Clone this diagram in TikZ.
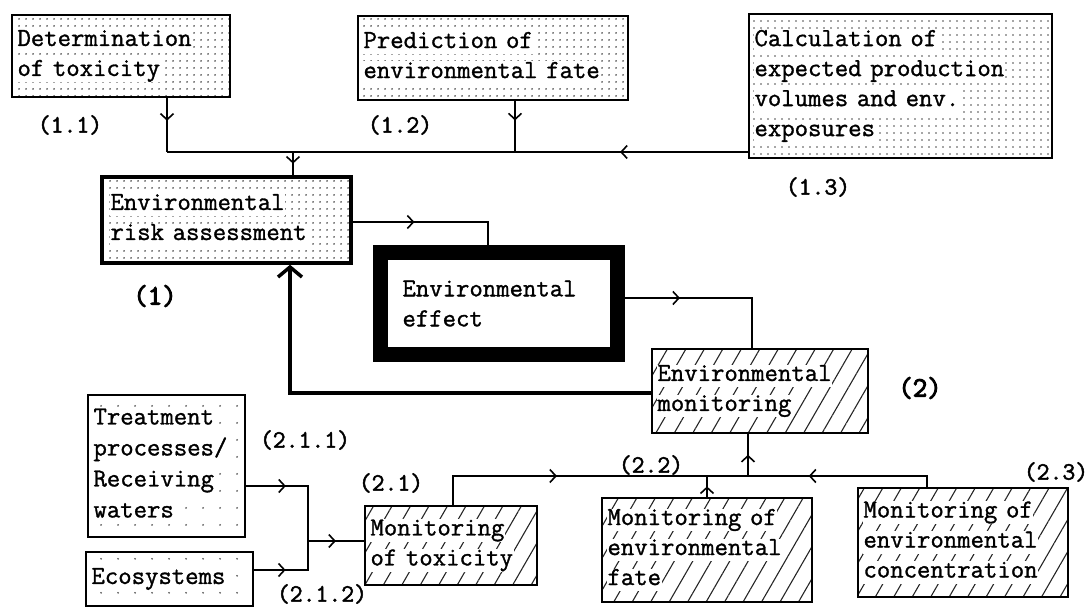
\documentclass[tikz,border=0pt]{standalone}
\usepackage{fontspec}
\newfontfamily\dfont[FakeBold=1.2]{Latin Modern Mono}
\newfontfamily\lfont[FakeBold=2]{Latin Modern Mono}
\newfontfamily\bfont[FakeBold=3.5]{Latin Modern Mono}
\usetikzlibrary{arrows.meta,decorations.markings,patterns.meta,calc}
\newcommand\wl[1]{\colorbox{white}{\vphantom{Tg}#1}}
\setlength{\fboxsep}{0.5pt}
\begin{document}
\begin{tikzpicture}[x=1pt,y=-1pt,
  txt/.style={font=\dfont\fontsize{26}{30}\selectfont, align=left, inner xsep=5pt, inner ysep=0pt},
  dotbox/.style={txt, draw, line width=2.2pt, pattern={Dots[distance=6.5pt,radius=1pt]}, pattern color=black!70},
  sparsebox/.style={txt, draw, line width=2.2pt, pattern={Dots[distance=17pt,radius=1pt]}, pattern color=black!70},
  hatchbox/.style={txt, draw, line width=2.4pt, pattern={Lines[angle=60,distance=16pt,line width=1.1pt]}, pattern color=black!85},
  effbox/.style={txt, draw, fill=white, line width=15pt, inner xsep=22pt},
  lbl/.style={font=\lfont\fontsize{25}{28}\selectfont, inner sep=0pt},
  blbl/.style={font=\bfont\fontsize{28}{30}\selectfont, inner sep=0pt},
  conn/.style={line width=1.8pt},
  marr/.style={postaction={decorate,decoration={markings,mark=at position #1 with {\arrow{Straight Barb[length=6pt,width=13pt,line width=1.6pt]}}}}},
  bigarr/.style={line width=3.5pt, -{Straight Barb[length=10pt,width=24pt,line width=3.5pt]}}
]
\useasboundingbox (0,0) rectangle (1090,609);

% boxes
\node[dotbox, text width=208pt, minimum height=82pt] (A) at (121,56) {\wl{Determination}\\\wl{of toxicity}};
\node[dotbox, text width=260pt, minimum height=84pt] (B) at (493,58) {\wl{Prediction of}\\\wl{environmental fate}};
\node[dotbox, text width=293pt, minimum height=144pt] (C) at (900.5,86) {\wl{Calculation of}\\\wl{expected production}\\\wl{volumes and env.}\\\wl{exposures}};
\node[dotbox, line width=3.5pt, text width=233pt, minimum height=86pt, inner xsep=8pt] (D) at (226.5,220) {\wl{Environmental}\\\wl{risk assessment}};
\node[effbox, text width=193pt, minimum height=102pt] (E) at (499,303.5) {Environmental\\effect};
\node[hatchbox, text width=206pt, minimum height=84pt] (G) at (760,391) {\wl{Environmental}\\\wl{monitoring}};
\node[sparsebox, text width=147pt, minimum height=142pt] (T) at (166.5,466) {\wl{Treatment}\\[1pt]\wl{processes/}\\[1pt]\wl{Receiving}\\[1pt]\wl{waters}};
\node[sparsebox, text width=157pt, minimum height=54pt] (Eco) at (169.5,579) {\wl{Ecosystems}};
\node[hatchbox, text width=162pt, minimum height=79pt] (M1) at (451,545.5) {\wl{Monitoring}\\\wl{of toxicity}};
\node[hatchbox, text width=200pt, minimum height=104pt] (M2) at (707,550) {\wl{Monitoring of}\\\wl{environmental}\\\wl{fate}};
\node[hatchbox, text width=200pt, minimum height=109pt] (M3) at (963,542.5) {\wl{Monitoring of}\\\wl{environmental}\\\wl{concentration}};

% labels
\node[lbl] (l11) at (70,125) {(1.1)};
\node[lbl] (l12) at (400,125) {(1.2)};
\node[lbl] (l13) at (818,187) {(1.3)};
\node[blbl] (l1) at (155,296) {(1)};
\node[blbl] (l2) at (920,388) {(2)};
\node[lbl] (l211) at (305,440) {(2.1.1)};
\node[lbl] (l21) at (391,483) {(2.1)};
\node[lbl] (l212) at (322,594) {(2.1.2)};
\node[lbl] (l22) at (651,465) {(2.2)};
\node[lbl] (l23) at (1056,472) {(2.3)};

% junctions
\coordinate (J1) at (167,152);
\coordinate (J2) at (293,152);
\coordinate (J3) at (515,152);
\coordinate (K1) at (488,222);
\coordinate (K2) at (752,298);
\coordinate (K3) at (290,393);
\coordinate (J4) at (748,476);
\coordinate (J5) at (707,476);
\coordinate (K4) at (927,476);
\coordinate (K5) at (453,476);
\coordinate (L1) at (308,486);
\coordinate (L2) at (308,541);
\coordinate (L3) at (308,570);

% connectors, upper part
\draw[conn, marr=0.42] (A.south -| J1) -- (J1);
\draw[conn, marr=0.22] (C.west |- J1) -- (J1);
\draw[conn, marr=0.38] (B.south -| J3) -- (J3);
\draw[conn, marr=0.5] (J2) -- (D.north -| J2);
\draw[conn, marr=0.39] (D.east |- K1) -- (K1) -- (E.north -| K1);
\draw[conn, marr=0.31] (E.east |- K2) -- (K2) -- (G.north -| K2);
\draw[bigarr] (G.west |- K3) -- (K3) -- (D.south -| K3);

% connectors, lower part
\draw[conn, marr=0.5] (J4) -- (G.south -| J4);
\draw[conn, marr=0.68] (M3.north -| K4) -- (K4) -- (J4);
\draw[conn, marr=0.5] (M2.north -| J5) -- (J5);
\draw[conn, marr=0.41] (M1.north -| K5) -- (K5) -- (J4);
\draw[conn, marr=0.34] (T.east |- L1) -- (L1) -- (L2);
\draw[conn, marr=0.38] (Eco.east |- L3) -- (L3) -- (L2);
\draw[conn, marr=0.5] (L2) -- (M1.west |- L2);
\end{tikzpicture}
\end{document}
